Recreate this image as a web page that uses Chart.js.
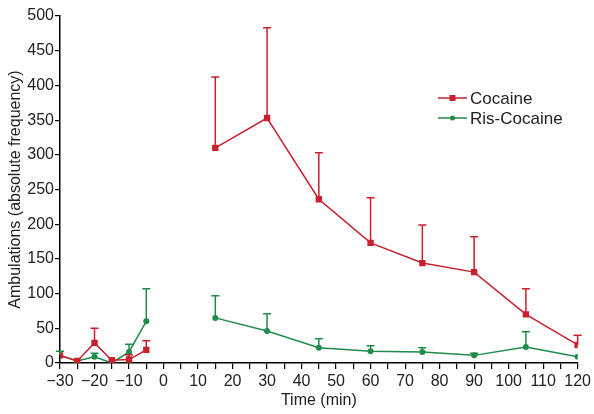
<!DOCTYPE html>
<html>
<head>
<meta charset="utf-8">
<script src="https://cdn.jsdelivr.net/npm/chart.js@4/dist/chart.umd.min.js"></script>
<style>
  html, body { margin: 0; padding: 0; background: #fff; }
  #wrap { width: 594px; height: 414px; position: relative; }
</style>
</head>
<body>
<div id="wrap"><canvas id="chart"></canvas></div>
<script>
// time points (min); null row at 5 breaks the line between baseline and post-injection
const times = [-30, -25, -20, -15, -10, -5, 5, 15, 30, 45, 60, 75, 90, 105, 120];
const cocaine =     [11, 3, 29, 4, 5, 19, null, 310, 353, 236, 173, 144, 131, 70, 26];
const cocaineErr =  [0, 0, 21, 0, 7, 13, null, 102, 130, 67, 65, 55, 51, 37, 14];
const risCocaine =  [11, 3, 9, 0, 16, 60, null, 65, 46, 22, 17, 16, 11, 23, 9];
const risErr =      [6, 0, 5, 0, 11, 47, null, 32, 25, 13, 8, 6, 3, 22, 0];
const yTicks = [0, 50, 100, 150, 200, 250, 300, 350, 400, 450, 500];

const RED = "#c8202c";
const GREEN = "#1f8c4a";
const FONT = "'Liberation Sans', Arial, sans-serif";

const toPts = (vals) => times.map((t, i) => ({ x: t, y: vals[i] }));

const errorBars = {
  id: "errorBars",
  afterDatasetsDraw(chart) {
    const ctx = chart.ctx;
    const xs = chart.scales.x, ys = chart.scales.y;
    const sets = [[cocaine, cocaineErr, RED], [risCocaine, risErr, GREEN]];
    ctx.save();
    ctx.lineWidth = 1.5;
    sets.forEach(([vals, errs, col]) => {
      ctx.strokeStyle = col;
      vals.forEach((v, i) => {
        if (v === null || !errs[i]) return;
        const x = xs.getPixelForValue(times[i]);
        const y0 = ys.getPixelForValue(v);
        const y1 = ys.getPixelForValue(v + errs[i]);
        ctx.beginPath();
        ctx.moveTo(x, y0);
        ctx.lineTo(x, y1);
        ctx.moveTo(x - 4, y1);
        ctx.lineTo(x + 4, y1);
        ctx.stroke();
      });
    });
    ctx.restore();
  }
};

const customLegend = {
  id: "customLegend",
  afterDraw(chart) {
    const ctx = chart.ctx;
    const items = [["Cocaine", RED, "rect"], ["Ris-Cocaine", GREEN, "circle"]];
    ctx.save();
    ctx.font = "17px " + FONT;
    ctx.textBaseline = "middle";
    items.forEach(([label, col, shape], i) => {
      const y = 98 + i * 20;
      const x0 = 438, x1 = 467, xm = (x0 + x1) / 2;
      ctx.strokeStyle = col;
      ctx.fillStyle = col;
      ctx.lineWidth = 1.5;
      ctx.beginPath();
      ctx.moveTo(x0, y);
      ctx.lineTo(x1, y);
      ctx.stroke();
      if (shape === "rect") {
        ctx.fillRect(xm - 3, y - 3, 6, 6);
      } else {
        ctx.beginPath();
        ctx.arc(xm, y, 2.5, 0, Math.PI * 2);
        ctx.fill();
      }
      ctx.fillStyle = "#222";
      ctx.fillText(label, x1 + 3, y + 1);
    });
    ctx.restore();
  }
};

new Chart(document.getElementById("chart"), {
  type: "line",
  data: {
    datasets: [
      {
        label: "Cocaine",
        data: toPts(cocaine),
        borderColor: RED,
        backgroundColor: RED,
        borderWidth: 1.5,
        pointStyle: "rect",
        pointRadius: 4.5,
        pointBorderWidth: 0,
        spanGaps: false,
        tension: 0
      },
      {
        label: "Ris-Cocaine",
        data: toPts(risCocaine),
        borderColor: GREEN,
        backgroundColor: GREEN,
        borderWidth: 1.5,
        pointStyle: "circle",
        pointRadius: 3,
        pointBorderWidth: 0,
        spanGaps: false,
        tension: 0
      }
    ]
  },
  options: {
    responsive: true,
    maintainAspectRatio: false,
    animation: false,
    layout: { padding: { top: 16, right: 16, left: 0, bottom: 0 } },
    plugins: {
      legend: { display: false },
      tooltip: { enabled: false }
    },
    scales: {
      x: {
        type: "linear",
        min: -30,
        max: 120,
        afterFit: (s) => { s.height = 51; },
        ticks: {
          stepSize: 5,
          autoSkip: false,
          maxRotation: 0,
          color: "#222",
          padding: 3,
          font: { size: 16, family: FONT },
          callback: (v) => (v % 10 === 0 ? (v < 0 ? "\u2212" + Math.abs(v) : String(v)) : "")
        },
        grid: {
          display: true,
          drawOnChartArea: false,
          drawTicks: true,
          tickLength: 6,
          color: "#000",
          lineWidth: 1.2
        },
        border: { display: true, color: "#000", width: 1.5 },
        title: {
          display: true,
          text: "Time (min)",
          color: "#222",
          padding: { top: 3 },
          font: { size: 16, family: FONT }
        }
      },
      y: {
        min: 0,
        max: 500,
        afterFit: (s) => { s.width = 60; },
        afterBuildTicks: (s) => { s.ticks = yTicks.map((v) => ({ value: v })); },
        ticks: {
          color: "#222",
          padding: 1,
          font: { size: 16, family: FONT }
        },
        grid: {
          display: true,
          drawOnChartArea: false,
          drawTicks: true,
          tickLength: 5,
          color: "#000",
          lineWidth: 1.2
        },
        border: { display: true, color: "#000", width: 1.5 },
        title: {
          display: true,
          text: "Ambulations (absolute frequency)",
          color: "#222",
          padding: { top: 6, bottom: 0 },
          font: { size: 16, family: FONT }
        }
      }
    }
  },
  plugins: [errorBars, customLegend]
});
</script>
</body>
</html>
